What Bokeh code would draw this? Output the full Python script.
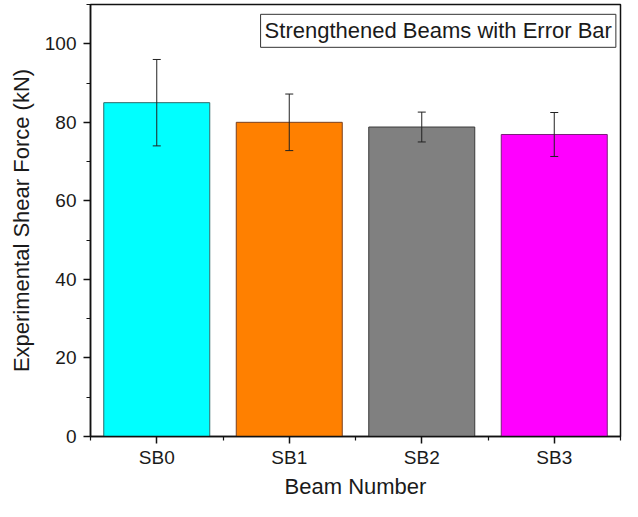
from bokeh.plotting import figure
from bokeh.models import ColumnDataSource, Range1d, FixedTicker, Whisker, TeeHead, Label
from bokeh.embed import file_html
from bokeh.resources import INLINE

# ---- data ----
beams = ["SB0", "SB1", "SB2", "SB3"]
shear = [85.0, 80.0, 78.8, 76.9]
errors = [11.0, 7.2, 3.8, 5.6]
fill_colors = ["#00FFFF", "#FF8000", "#808080", "#FF00FF"]
line_colors = ["#2E6A6A", "#7A4020", "#3A3A3A", "#7A207A"]
y_ticks = [0, 20, 40, 60, 80, 100]
y_minor = [10, 30, 50, 70, 90, 110]
title_text = "Strengthened Beams with Error Bar"

xpos = [i + 0.5 for i in range(len(beams))]
src = ColumnDataSource(dict(
    x=xpos, top=shear, fill=fill_colors, line=line_colors,
    upper=[v + e for v, e in zip(shear, errors)],
    lower=[v - e for v, e in zip(shear, errors)],
))

FONT = "Liberation Sans"
TXT = "#1a1a1a"

p = figure(width=622, height=501, output_backend="svg", toolbar_location=None,
           x_range=Range1d(0, len(beams)), y_range=Range1d(0, 110),
           min_border_left=90, min_border_right=2, min_border_top=4, min_border_bottom=0)

p.vbar(x="x", top="top", width=0.8, bottom=0, source=src,
       fill_color="fill", line_color="line", line_width=1)

w = Whisker(base="x", upper="upper", lower="lower", source=src,
            line_color="#222222", line_width=1, level="overlay",
            upper_head=TeeHead(size=8, line_color="#222222", line_width=1),
            lower_head=TeeHead(size=8, line_color="#222222", line_width=1))
p.add_layout(w)

lab = Label(x=len(beams) - 0.035, y=107.5, text=title_text, text_align="right",
            text_baseline="top", text_font=FONT, text_font_size="22px", text_color=TXT,
            border_line_color="#333333", border_line_width=1,
            background_fill_color="white", padding=4)
p.add_layout(lab)

p.xgrid.visible = False
p.ygrid.visible = False
p.outline_line_color = "#111111"
p.outline_line_width = 1.5
p.background_fill_color = "white"

p.xaxis.ticker = FixedTicker(ticks=xpos, minor_ticks=list(range(len(beams) + 1)))
p.xaxis.major_label_overrides = {x: b for x, b in zip(xpos, beams)}
p.yaxis.ticker = FixedTicker(ticks=y_ticks, minor_ticks=y_minor)

for ax in (p.xaxis[0], p.yaxis[0]):
    ax.axis_line_color = "#111111"
    ax.axis_line_width = 1.5
    ax.major_tick_line_color = "#111111"
    ax.minor_tick_line_color = "#111111"
    ax.major_tick_line_width = 1.5
    ax.minor_tick_line_width = 1.2
    ax.major_tick_in = 0
    ax.major_tick_out = 7
    ax.minor_tick_in = 0
    ax.minor_tick_out = 4
    ax.major_label_text_font = FONT
    ax.major_label_text_font_size = "19px"
    ax.major_label_text_color = TXT
    ax.axis_label_text_font = FONT
    ax.axis_label_text_font_size = "22px"
    ax.axis_label_text_font_style = "normal"
    ax.axis_label_text_color = TXT

p.xaxis.axis_label = "Beam Number"
p.yaxis.axis_label = "Experimental Shear Force (kN)"
p.xaxis.major_label_standoff = 3
p.xaxis.axis_label_standoff = 3
p.yaxis.major_label_standoff = 7
p.yaxis.axis_label_standoff = 8

open("out.html", "w").write(file_html(p, INLINE))
